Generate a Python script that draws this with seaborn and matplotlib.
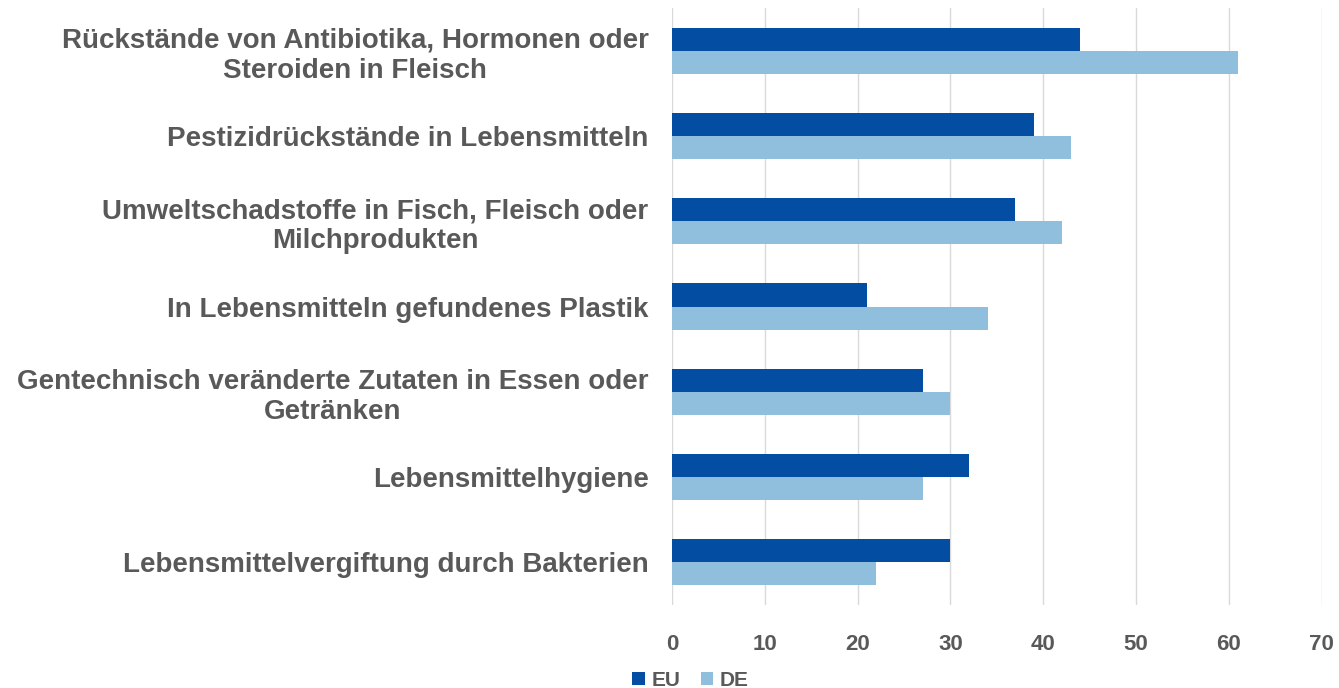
import pandas as pd
import seaborn as sns
import matplotlib.pyplot as plt

kategorien = [
    "Rückstände von Antibiotika, Hormonen oder\nSteroiden in Fleisch",
    "Pestizidrückstände in Lebensmitteln",
    "Umweltschadstoffe in Fisch, Fleisch oder\nMilchprodukten",
    "In Lebensmitteln gefundenes Plastik",
    "Gentechnisch veränderte Zutaten in Essen oder\nGetränken",
    "Lebensmittelhygiene",
    "Lebensmittelvergiftung durch Bakterien",
]
eu = [44, 39, 37, 21, 27, 32, 30]
de = [61, 43, 42, 34, 30, 27, 22]
ticks = [0, 10, 20, 30, 40, 50, 60, 70]

df = pd.DataFrame({
    "kategorie": kategorien * 2,
    "wert": eu + de,
    "region": ["EU"] * len(eu) + ["DE"] * len(de),
})

sns.set_style("white")
plt.rcParams["font.family"] = ["Liberation Sans", "DejaVu Sans"]

fig = plt.figure(figsize=(13.39, 6.88), dpi=100)
ax = fig.add_axes([0.502, 0.121, 0.485, 0.867])

sns.barplot(data=df, y="kategorie", x="wert", hue="region", orient="h",
            palette={"EU": "#034ea2", "DE": "#8fbfdc"}, width=0.54,
            saturation=1, ax=ax, errorbar=None, linewidth=0, edgecolor="none")

ax.set_xlim(0, 70)
ax.set_xticks(ticks)
ax.set_xlabel("")
ax.set_ylabel("")
ax.grid(axis="x", color="#d9d9d9", linewidth=1)
ax.set_axisbelow(True)
for s in ax.spines.values():
    s.set_visible(False)
ax.tick_params(axis="both", length=0)
ax.tick_params(axis="x", labelsize=16, labelcolor="#595959", pad=21)
ax.tick_params(axis="y", pad=17)
for lbl in ax.get_xticklabels():
    lbl.set_fontweight("bold")
for lbl in ax.get_yticklabels():
    lbl.set_fontsize(20)
    lbl.set_fontweight("bold")
    lbl.set_color("#595959")
    lbl.set_multialignment("center")

leg = ax.legend(loc="upper left", bbox_to_anchor=(-0.09, -0.08), ncol=2,
                frameon=False, fontsize=15, handlelength=0.6, handleheight=0.6,
                handletextpad=0.3, columnspacing=1.0)
for t in leg.get_texts():
    t.set_color("#595959")
    t.set_fontweight("bold")

fig.savefig("out.png", dpi=100)
